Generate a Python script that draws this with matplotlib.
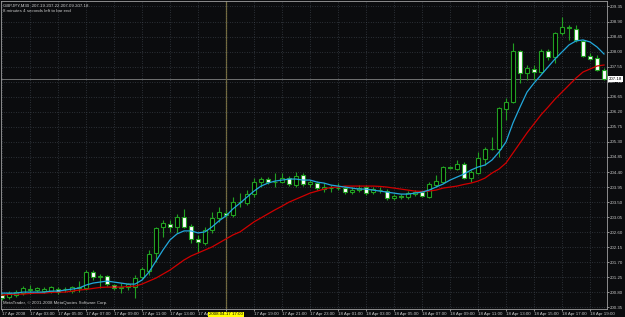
import matplotlib
matplotlib.use("Agg")
import matplotlib.pyplot as plt
import matplotlib.transforms as mtransforms
import numpy as np

plt.rcParams["font.family"] = ["Liberation Sans", "DejaVu Sans"]

# GBPJPY M30 bars, 17 Apr 2008 01:00 -> 18 Apr 2008 20:00
opens = [200.72, 200.66, 200.72, 200.78, 200.87, 200.87, 200.84, 200.84, 200.90, 200.89,
         200.84, 200.93, 200.93, 201.41, 201.26, 201.29, 201.02, 200.93, 200.96, 200.96,
         201.26, 201.44, 201.98, 202.76, 202.85, 202.76, 203.06, 202.79, 202.40, 202.28,
         202.67, 203.03, 203.18, 203.12, 203.50, 203.47, 203.74, 204.10, 204.19, 204.10,
         204.10, 204.22, 204.01, 204.31, 204.04, 204.07, 203.89, 203.92, 203.92, 203.92,
         203.80, 203.86, 203.95, 203.80, 203.86, 203.83, 203.62, 203.68, 203.65, 203.74,
         203.80, 203.65, 204.01, 204.10, 204.55, 204.49, 204.64, 204.22, 204.37, 204.79,
         205.09, 205.09, 206.29, 206.49, 208.02, 207.36, 207.48, 207.39, 208.02, 207.84,
         208.56, 208.73, 208.68, 208.32, 207.87, 207.81, 207.45]
highs = [200.78, 200.84, 200.87, 200.99, 201.02, 200.96, 200.96, 200.99, 200.96, 200.96,
         200.99, 201.14, 201.47, 201.47, 201.35, 201.32, 201.05, 201.08, 201.08, 201.32,
         201.56, 202.07, 202.76, 202.97, 202.97, 203.15, 203.30, 202.85, 202.52, 202.76,
         203.21, 203.35, 203.27, 203.65, 203.77, 203.86, 204.22, 204.25, 204.25, 204.37,
         204.37, 204.28, 204.40, 204.37, 204.16, 204.13, 204.07, 204.01, 204.07, 203.98,
         203.95, 204.01, 204.01, 203.95, 203.95, 203.89, 203.74, 203.74, 203.83, 203.86,
         203.83, 204.10, 204.31, 204.58, 204.58, 204.76, 204.70, 204.46, 205.00, 205.15,
         205.45, 206.34, 206.61, 208.26, 208.05, 207.60, 207.60, 208.08, 208.08, 208.59,
         209.04, 208.80, 208.80, 208.35, 207.96, 207.90, 207.51]
lows = [200.57, 200.60, 200.66, 200.72, 200.75, 200.81, 200.78, 200.78, 200.75, 200.81,
        200.78, 200.81, 200.87, 201.17, 200.93, 200.99, 200.87, 200.78, 200.87, 200.63,
        201.20, 201.32, 201.71, 202.46, 202.61, 202.58, 202.73, 202.28, 202.01, 202.22,
        202.58, 202.91, 203.03, 203.06, 203.35, 203.41, 203.65, 203.95, 204.04, 203.95,
        204.07, 203.98, 203.95, 203.98, 203.95, 203.86, 203.80, 203.80, 203.86, 203.74,
        203.74, 203.80, 203.71, 203.74, 203.77, 203.56, 203.56, 203.59, 203.59, 203.68,
        203.65, 203.62, 203.95, 204.07, 204.49, 204.46, 204.19, 204.10, 204.34, 204.61,
        205.06, 204.85, 205.96, 206.46, 207.06, 207.15, 207.15, 207.36, 207.75, 207.66,
        208.50, 208.35, 208.29, 207.84, 207.75, 207.42, 207.15]
closes = [200.63, 200.78, 200.81, 200.93, 200.90, 200.93, 200.90, 200.96, 200.81, 200.90,
          200.96, 200.96, 201.41, 201.26, 201.29, 201.05, 200.93, 200.96, 201.05, 201.23,
          201.50, 201.95, 202.73, 202.88, 202.76, 203.06, 202.76, 202.40, 202.31, 202.67,
          203.03, 203.21, 203.12, 203.50, 203.51, 203.74, 204.10, 204.19, 204.10, 204.11,
          204.22, 204.04, 204.28, 204.04, 204.10, 203.92, 203.95, 203.93, 203.93, 203.80,
          203.86, 203.92, 203.77, 203.89, 203.87, 203.62, 203.68, 203.65, 203.77, 203.80,
          203.68, 204.04, 204.13, 204.55, 204.52, 204.64, 204.22, 204.40, 204.82, 205.09,
          205.10, 206.31, 206.49, 208.02, 207.36, 207.51, 207.39, 208.02, 207.84, 208.56,
          208.74, 208.72, 208.35, 207.87, 207.78, 207.45, 207.18]

# moving averages as drawn on the chart
ma_fast = [200.78, 200.78, 200.78, 200.81, 200.81, 200.81, 200.81, 200.84, 200.84, 200.87,
           200.90, 200.93, 201.02, 201.08, 201.11, 201.14, 201.11, 201.08, 201.05, 201.05,
           201.17, 201.41, 201.74, 202.07, 202.37, 202.55, 202.64, 202.64, 202.58, 202.61,
           202.76, 202.94, 203.09, 203.30, 203.47, 203.65, 203.83, 203.98, 204.07, 204.13,
           204.16, 204.19, 204.19, 204.16, 204.16, 204.10, 204.07, 204.01, 203.98, 203.95,
           203.92, 203.89, 203.89, 203.86, 203.83, 203.80, 203.77, 203.74, 203.74, 203.77,
           203.80, 203.86, 203.95, 204.04, 204.16, 204.25, 204.34, 204.46, 204.55, 204.61,
           204.76, 205.00, 205.30, 205.87, 206.34, 206.79, 207.06, 207.30, 207.54, 207.78,
           207.99, 208.20, 208.32, 208.35, 208.29, 208.14, 207.93]
ma_slow = [200.72, 200.74, 200.75, 200.75, 200.77, 200.78, 200.78, 200.80, 200.81, 200.81,
           200.84, 200.87, 200.89, 200.92, 200.95, 200.96, 200.96, 200.96, 200.98, 200.99,
           201.05, 201.14, 201.23, 201.35, 201.47, 201.62, 201.77, 201.89, 201.98, 202.07,
           202.16, 202.28, 202.40, 202.52, 202.61, 202.76, 202.91, 203.03, 203.15, 203.27,
           203.38, 203.50, 203.59, 203.68, 203.77, 203.83, 203.89, 203.94, 203.95, 203.98,
           203.98, 203.98, 203.98, 203.98, 203.97, 203.95, 203.92, 203.89, 203.86, 203.83,
           203.82, 203.83, 203.86, 203.92, 203.95, 203.98, 204.03, 204.07, 204.13, 204.22,
           204.37, 204.49, 204.67, 204.97, 205.27, 205.57, 205.84, 206.11, 206.34, 206.58,
           206.79, 207.00, 207.21, 207.39, 207.48, 207.57, 207.60]

price_ticks = [209.35, 208.90, 208.45, 208.00, 207.55, 207.10, 206.65, 206.20, 205.75,
               205.30, 204.85, 204.40, 203.95, 203.50, 203.05, 202.60, 202.15, 201.70,
               201.25, 200.80, 200.35]
# the 15:00 / 17:00 labels sit under the yellow cursor box, only "17 Apr" shows
time_labels = ["17 Apr 2008", "17 Apr 03:00", "17 Apr 05:00", "17 Apr 07:00",
               "17 Apr 09:00", "17 Apr 11:00", "17 Apr 13:00", "17 Apr",
               "", "17 Apr 19:00", "17 Apr 21:00", "17 Apr 23:00",
               "18 Apr 01:00", "18 Apr 03:00", "18 Apr 05:00", "18 Apr 07:00",
               "18 Apr 09:00", "18 Apr 11:00", "18 Apr 13:00", "18 Apr 15:00",
               "18 Apr 17:00", "18 Apr 19:00"]
cursor_bar = 32
cursor_label = "2008.04.17 17:00"
bid = 207.18
title_lines = ["GBPJPY,M30  207.19 207.22 207.09 207.18",
               "8 minutes 4 seconds left to bar end"]
footer = "MetaTrader, \u00a9 2001-2008 MetaQuotes Software Corp."

BG = "#0b0c0e"
FG = "#c8c8c8"
GREEN = "#22a022"

o = np.array(opens)
h = np.array(highs)
l = np.array(lows)
c = np.array(closes)
idx = np.arange(len(o))
up = c >= o

fig = plt.figure(figsize=(6.25, 3.17), dpi=100, facecolor=BG)
ax = fig.add_axes([1 / 625, 8 / 317, 606 / 625, 308 / 317], facecolor=BG)

ax.vlines(idx, l, h, color=GREEN, lw=0.8, zorder=2)
body_w = 0.62
ax.bar(idx[up], np.maximum(c[up] - o[up], 0.004), bottom=o[up], width=body_w,
       color="black", edgecolor=GREEN, lw=0.8, zorder=3)
ax.bar(idx[~up], np.maximum(o[~up] - c[~up], 0.004), bottom=c[~up], width=body_w,
       color="white", edgecolor=GREEN, lw=0.8, zorder=3)

ax.plot(idx, ma_slow, color="#d00000", lw=0.9, zorder=4)
ax.plot(idx, ma_fast, color="#22a8dc", lw=0.9, zorder=5)

ax.axhline(bid, color="#808080", lw=0.6, zorder=1)
ax.axvline(cursor_bar, color="#7a6f3c", lw=0.9, zorder=1)

ax.set_xlim(-1 / 7, 605 / 7)
ax.set_ylim(200.305, 209.514)

tick_pos = np.arange(0, len(time_labels) * 4, 4)
ax.set_xticks(tick_pos)
ax.set_xticklabels(time_labels)
for lab in ax.get_xticklabels():
    lab.set_horizontalalignment("left")
ax.yaxis.tick_right()
ax.set_yticks(price_ticks)
ax.set_yticklabels([f"{p:.2f}" for p in price_ticks])
ax.tick_params(axis="both", colors=FG, labelsize=3.2, length=1.5, width=0.5, pad=1.0)
ax.tick_params(axis="y", pad=0.8)

ax.grid(True, color="#4a525c", lw=0.5, linestyle=(0, (1, 2.5)), zorder=0)
for sp in ax.spines.values():
    sp.set_color("#a0a0a0")
    sp.set_linewidth(0.6)

xform = mtransforms.blended_transform_factory(ax.transData, ax.transAxes)
ax.text(cursor_bar, -0.017, cursor_label, transform=xform, ha="center", va="center",
        fontsize=3.2, color="black", zorder=10, clip_on=False,
        bbox=dict(boxstyle="square,pad=0.15", fc="#ffff00", ec="none"))
yform = mtransforms.blended_transform_factory(ax.transAxes, ax.transData)
ax.text(1.003, bid, f"{bid:.2f}", transform=yform, ha="left", va="center",
        fontsize=3.2, color="black", zorder=10, clip_on=False,
        bbox=dict(boxstyle="square,pad=0.15", fc="white", ec="none"))

ax.text(0.004, 0.992, title_lines[0], transform=ax.transAxes, ha="left", va="top",
        fontsize=3.2, color=FG)
ax.text(0.004, 0.975, title_lines[1], transform=ax.transAxes, ha="left", va="top",
        fontsize=3.2, color=FG)
ax.text(0.004, 0.012, footer, transform=ax.transAxes, ha="left", va="bottom",
        fontsize=3.2, color=FG)

fig.savefig("out.png", dpi=100, facecolor=BG)
